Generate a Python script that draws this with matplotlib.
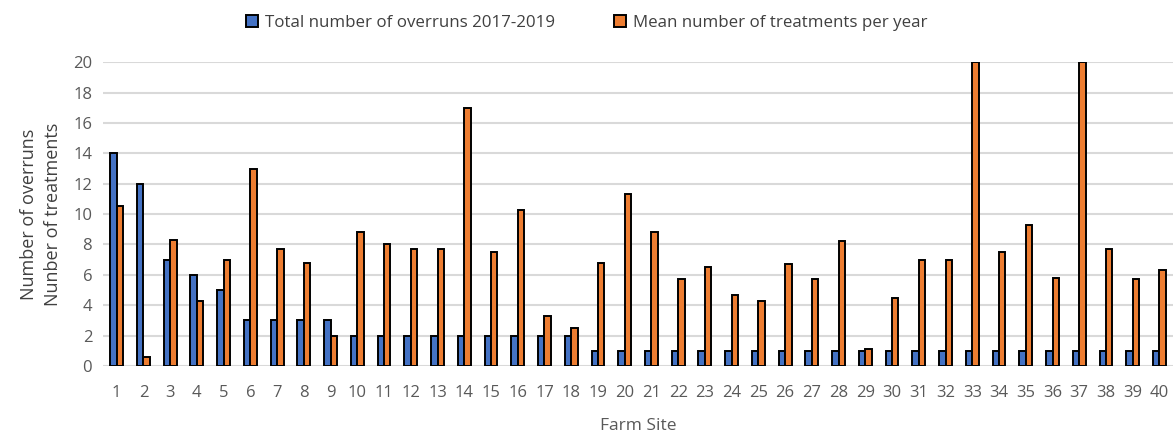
import matplotlib
matplotlib.use("Agg")
import matplotlib.pyplot as plt
import numpy as np

# farm sites 1..40
sites = list(range(1, 41))
overruns = [14, 12, 7, 6, 5, 3, 3, 3, 3, 2, 2, 2, 2, 2, 2, 2, 2, 2,
            1, 1, 1, 1, 1, 1, 1, 1, 1, 1, 1, 1, 1, 1, 1, 1, 1, 1, 1, 1, 1, 1]
treatments = [10.5, 0.6, 8.3, 4.3, 7.0, 13.0, 7.7, 6.8, 2.0, 8.8,
              8.0, 7.7, 7.7, 17.0, 7.5, 10.3, 3.3, 2.5, 6.8, 11.3,
              8.8, 5.7, 6.5, 4.7, 4.3, 6.7, 5.7, 8.2, 1.1, 4.5,
              7.0, 7.0, 20.0, 7.5, 9.3, 5.8, 20.0, 7.7, 5.7, 6.3]

plt.rcParams['font.family'] = ['Open Sans', 'DejaVu Sans']
txt = '#595959'

fig = plt.figure(figsize=(11.74, 4.32), dpi=100)
ax = fig.add_axes([0.088, 0.153, 0.911, 0.703])

x = np.array(sites)
w = 0.24
ax.bar(x - w / 2, overruns, w, color='#4472C4', edgecolor='black', linewidth=1.4,
       label='Total number of overruns 2017-2019', zorder=3)
ax.bar(x + w / 2, treatments, w, color='#ED7D31', edgecolor='black', linewidth=1.4,
       label='Mean number of treatments per year', zorder=3)

ax.set_xlim(0.5, 40.5)
ax.set_ylim(0, 20)
ax.set_yticks(range(0, 21, 2))
ax.set_xticks(x)
ax.set_xticklabels([str(s) for s in sites])
ax.yaxis.grid(True, color='#d9d9d9', linewidth=1.5, zorder=0)
ax.set_axisbelow(True)
for s in ax.spines.values():
    s.set_visible(False)
ax.tick_params(length=0, labelsize=12, colors=txt, pad=8)
ax.tick_params(axis='x', pad=14)

ax.set_xlabel('Farm Site', fontsize=12.5, color=txt, labelpad=12)
ax.set_ylabel('Number of overruns\nNunber of treatments', fontsize=13, color='#404040',
              labelpad=8, linespacing=1.45)

leg = fig.legend(loc='upper center', bbox_to_anchor=(0.5, 1.0), ncol=2, frameon=False,
                 fontsize=12.2, handlelength=0.7, handleheight=0.7, columnspacing=3.5,
                 handletextpad=0.4)
for t in leg.get_texts():
    t.set_color('#404040')

fig.savefig('out.png', dpi=100)
